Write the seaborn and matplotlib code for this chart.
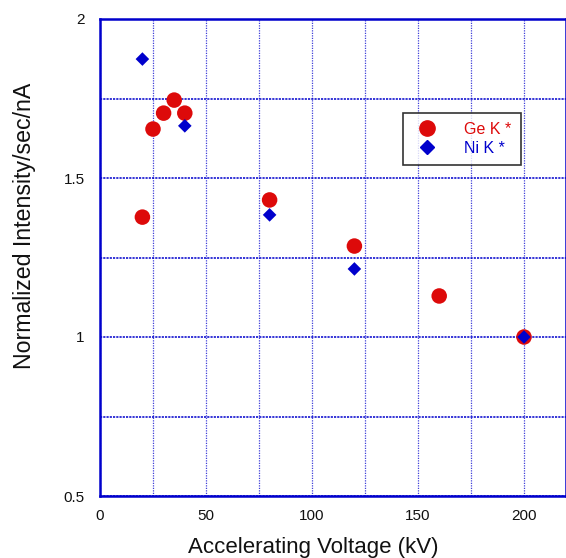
import matplotlib
matplotlib.use("Agg")
import matplotlib.pyplot as plt
import seaborn as sns
import pandas as pd
from matplotlib.ticker import MultipleLocator, FuncFormatter
from matplotlib.lines import Line2D

ge_kv = [20, 25, 30, 35, 40, 80, 120, 160, 200]
ge_int = [1.377, 1.654, 1.704, 1.745, 1.704, 1.431, 1.286, 1.129, 1.0]
ni_kv = [20, 40, 80, 120, 200]
ni_int = [1.874, 1.664, 1.384, 1.214, 1.0]
series_names = ["Ge K *", "Ni K *"]

RED = "#DD0A0A"
BLUE = "#0000CC"

sns.set_theme(style="white")
plt.rcParams['font.family'] = ['Liberation Sans', 'DejaVu Sans']

df = pd.concat([
    pd.DataFrame({"kV": ge_kv, "I": ge_int, "s": series_names[0]}),
    pd.DataFrame({"kV": ni_kv, "I": ni_int, "s": series_names[1]}),
])

fig = plt.figure(figsize=(5.66, 5.58), dpi=100)
ax = fig.add_axes([100/566, 62/558, 466.4/566, 477/558])
ax.set_xlim(0, 220)
ax.set_ylim(0.5, 2.0)

ax.xaxis.set_major_locator(MultipleLocator(50))
ax.xaxis.set_minor_locator(MultipleLocator(25))
ax.yaxis.set_major_locator(MultipleLocator(0.5))
ax.yaxis.set_minor_locator(MultipleLocator(0.25))
ax.yaxis.set_major_formatter(FuncFormatter(lambda v, p: f"{v:g}"))

ax.grid(True, which="both", axis="x", color=BLUE, linestyle=(0, (1, 1)), linewidth=0.9, alpha=0.75)
ax.grid(True, which="both", axis="y", color=BLUE, linestyle=(0, (1.2, 0.6)), linewidth=1.3, alpha=0.85)
ax.set_axisbelow(True)

sns.scatterplot(data=df, x="kV", y="I", hue="s", style="s",
                palette={series_names[0]: RED, series_names[1]: BLUE},
                markers={series_names[0]: "o", series_names[1]: "D"},
                size="s", sizes={series_names[0]: 125, series_names[1]: 48},
                edgecolor="none", linewidth=0, ax=ax, legend=False, zorder=3,
                clip_on=False)

for sp in ax.spines.values():
    sp.set_color(BLUE)
    sp.set_linewidth(1.8)
    sp.set_visible(True)

ax.tick_params(axis="both", which="major", direction="in", length=5, width=1.5,
               color=BLUE, labelsize=11, labelcolor="#111111")
ax.tick_params(axis="y", pad=11)
ax.tick_params(axis="x", pad=9)
ax.tick_params(axis="both", which="minor", length=0)

ax.set_xlabel("Accelerating Voltage (kV)", fontsize=16, color="#111111")
ax.set_ylabel("Normalized Intensity/sec/nA", fontsize=16.7, color="#111111")
ax.xaxis.set_label_coords(0.457, -0.086)
ax.yaxis.set_label_coords(-0.137, 0.566)

handles = [Line2D([], [], marker="o", color=RED, linestyle="none", markersize=11),
           Line2D([], [], marker="D", color=BLUE, linestyle="none", markersize=7)]
leg = fig.legend(handles, series_names, loc="upper left",
                 bbox_to_anchor=(403/566, 1 - 113/558), fontsize=11.5,
                 frameon=True, fancybox=False, edgecolor="black",
                 handletextpad=1.4, borderpad=0.55, labelspacing=0.25,
                 borderaxespad=0, handlelength=1.9)
leg.get_frame().set_linewidth(1.2)
for t, c in zip(leg.get_texts(), [RED, BLUE]):
    t.set_color(c)

fig.savefig("out.png", dpi=100)
